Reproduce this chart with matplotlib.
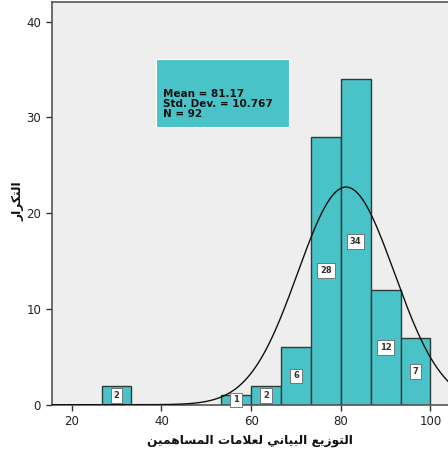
import numpy as np
import matplotlib.pyplot as plt
from matplotlib.patches import Rectangle

# بيانات المدرج التكراري
bin_edges = [26.667, 33.333, 40.0, 46.667, 53.333, 60.0, 66.667, 73.333, 80.0, 86.667, 93.333, 100.0]
counts = [2, 0, 0, 0, 1, 2, 6, 28, 34, 12, 7]
mean_val = 81.17
std_val = 10.767
n_val = 92
x_ticks = [20, 40, 60, 80, 100]
y_ticks = [0, 10, 20, 30, 40]
x_label = "التوزيع البياني لعلامات المساهمين"
y_label = "التكرار"

# matplotlib لا يشكّل الحروف العربية، لذلك نحولها يدويا
FORMS = {
    'ا': ('\uFE8D', '\uFE8E', None, None),
    'ب': ('\uFE8F', '\uFE90', '\uFE91', '\uFE92'),
    'ت': ('\uFE95', '\uFE96', '\uFE97', '\uFE98'),
    'ر': ('\uFEAD', '\uFEAE', None, None),
    'ز': ('\uFEAF', '\uFEB0', None, None),
    'س': ('\uFEB1', '\uFEB2', '\uFEB3', '\uFEB4'),
    'ع': ('\uFEC9', '\uFECA', '\uFECB', '\uFECC'),
    'ك': ('\uFED9', '\uFEDA', '\uFEDB', '\uFEDC'),
    'ل': ('\uFEDD', '\uFEDE', '\uFEDF', '\uFEE0'),
    'م': ('\uFEE1', '\uFEE2', '\uFEE3', '\uFEE4'),
    'ن': ('\uFEE5', '\uFEE6', '\uFEE7', '\uFEE8'),
    'ه': ('\uFEE9', '\uFEEA', '\uFEEB', '\uFEEC'),
    'و': ('\uFEED', '\uFEEE', None, None),
    'ي': ('\uFEF1', '\uFEF2', '\uFEF3', '\uFEF4'),
    'لا': ('\uFEFB', '\uFEFC', None, None),
}

def shape(text):
    # دمج لام ألف
    chars = []
    i = 0
    while i < len(text):
        if text[i] == 'ل' and i + 1 < len(text) and text[i + 1] == 'ا':
            chars.append('لا')
            i += 2
        else:
            chars.append(text[i])
            i += 1
    out = []
    for i, c in enumerate(chars):
        if c not in FORMS:
            out.append(c)
            continue
        iso, fin, ini, med = FORMS[c]
        prev = chars[i - 1] if i > 0 else None
        nxt = chars[i + 1] if i + 1 < len(chars) else None
        p = prev in FORMS and FORMS[prev][2] is not None
        n = nxt in FORMS and ini is not None
        if p and n:
            out.append(med)
        elif p:
            out.append(fin)
        elif n:
            out.append(ini)
        else:
            out.append(iso)
    return ''.join(out)[::-1]


fig = plt.figure(figsize=(4.48, 4.57), dpi=100)
ax = fig.add_axes([0.115, 0.1144, 0.946, 0.8812])
ax.set_facecolor('#eeeeee')

widths = np.diff(bin_edges)
lefts = np.array(bin_edges[:-1])
for l, w, c in zip(lefts, widths, counts):
    if c == 0:
        continue
    ax.add_patch(Rectangle((l, 0), w, c, facecolor='#49c3c7', edgecolor='#2f3b3b', lw=1.0, zorder=2))
    ax.text(l + w / 2, c / 2, str(c), ha='center', va='center', fontsize=6, color='#333333',
            fontweight='bold', zorder=4,
            bbox=dict(boxstyle='square,pad=0.35', facecolor='white', edgecolor='#666666', lw=0.6))

# منحنى التوزيع الطبيعي
xs = np.linspace(15, 112, 400)
bw = widths[0]
ys = n_val * bw / (std_val * np.sqrt(2 * np.pi)) * np.exp(-0.5 * ((xs - mean_val) / std_val) ** 2)
ax.plot(xs, ys, color='#111111', lw=1.0, zorder=3)

ax.set_xlim(15.5, 110)
ax.set_ylim(0, 42.04)
ax.set_xticks(x_ticks)
ax.set_yticks(y_ticks)
ax.tick_params(direction='out', length=4, width=1, color='#333333', labelsize=8.5, labelcolor='#222222')
for s in ax.spines.values():
    s.set_color('#555555')
    s.set_linewidth(1.2)

# صندوق الإحصاءات
ax.add_patch(Rectangle((38.8, 29.0), 29.7, 7.1, facecolor='#49c3c7', edgecolor='white', lw=0.8, zorder=2))
ax.text(40.4, 31.4, 'Mean = %.2f\nStd. Dev. = %.3f\nN = %d' % (mean_val, std_val, n_val),
        ha='left', va='center', fontsize=7.5, fontweight='bold', color='#111111', linespacing=1.0, zorder=3)

fig.text(0.558, 0.037, shape(x_label), ha='center', va='center', fontsize=8.8, fontweight='bold', color='#111111')
fig.text(0.04, 0.56, shape(y_label), ha='center', va='center', rotation=90, fontsize=8.8, fontweight='bold', color='#111111')

fig.savefig('out.png', dpi=100)
